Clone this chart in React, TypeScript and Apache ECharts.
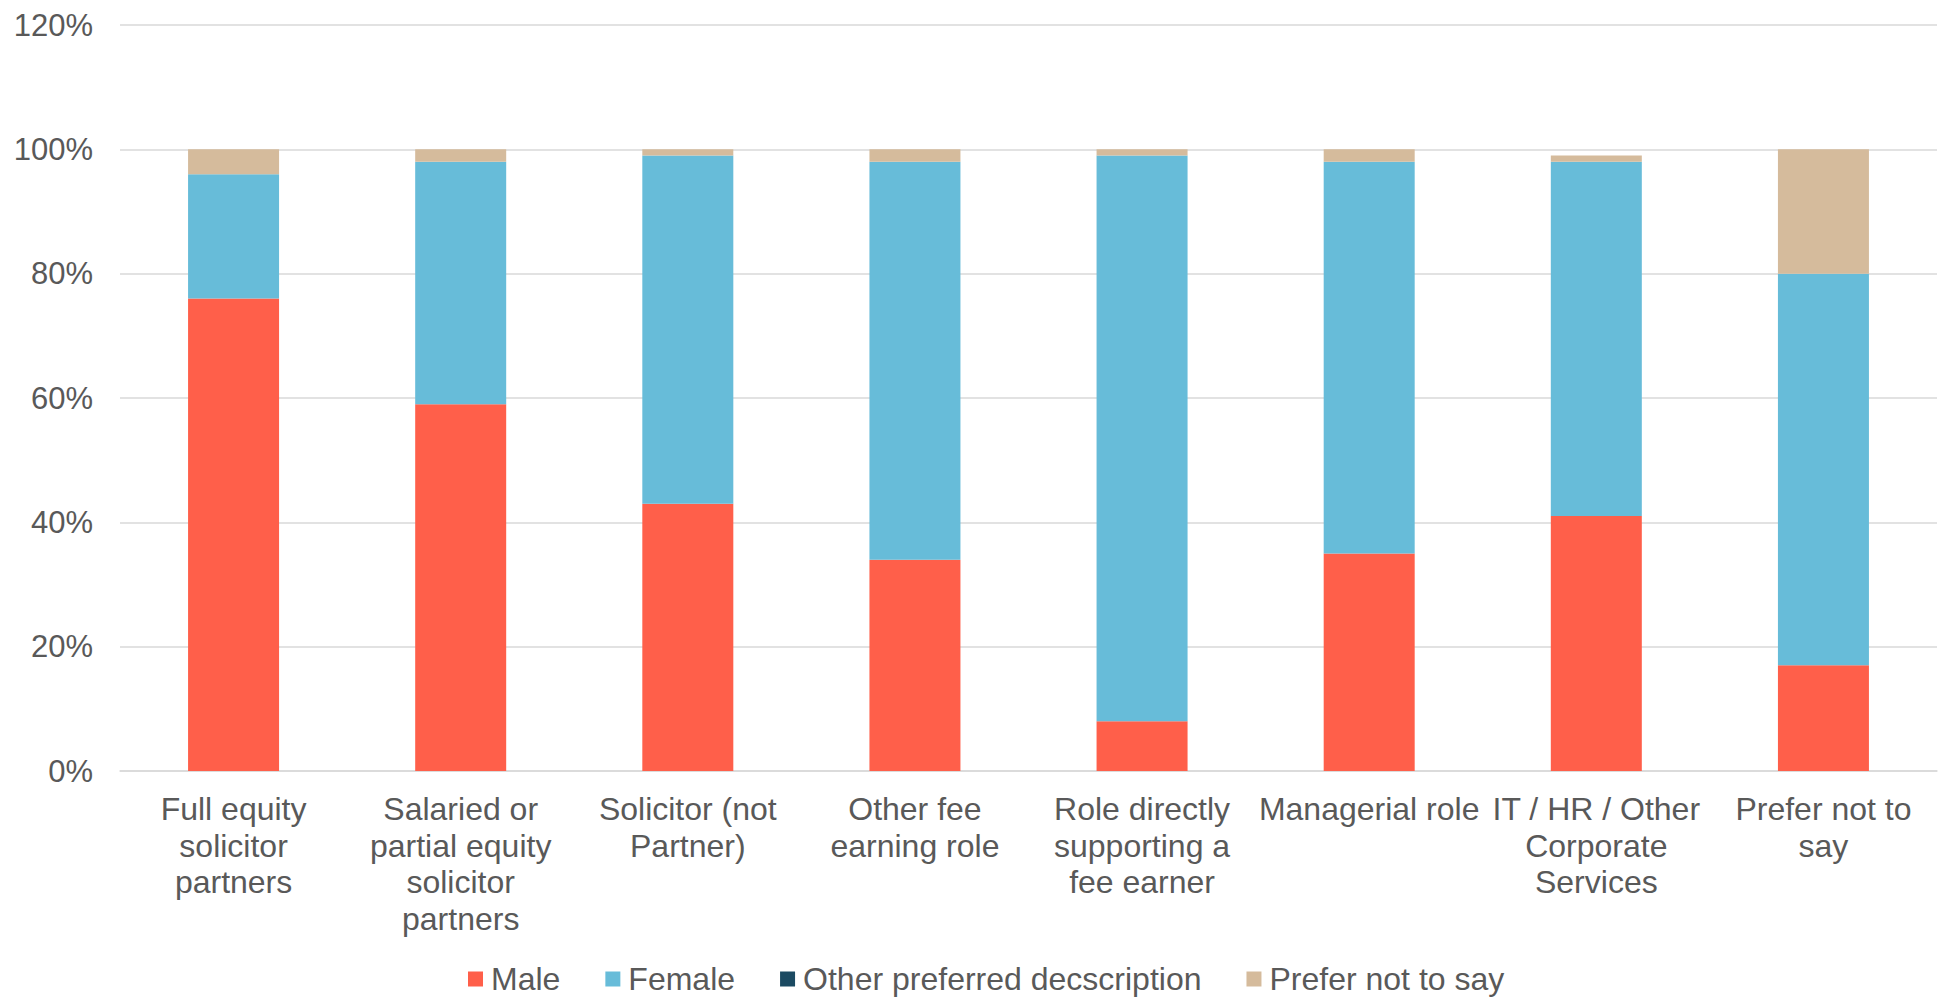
import React, { useEffect, useRef } from "react";
import * as echarts from "echarts";

const categories = [
  "Full equity\nsolicitor\npartners",
  "Salaried or\npartial equity\nsolicitor\npartners",
  "Solicitor (not\nPartner)",
  "Other fee\nearning role",
  "Role directly\nsupporting a\nfee earner",
  "Managerial role",
  "IT / HR / Other\nCorporate\nServices",
  "Prefer not to\nsay",
];
const male = [76, 59, 43, 34, 8, 35, 41, 17];
const female = [20, 39, 56, 64, 91, 63, 57, 63];
const other = [0, 0, 0, 0, 0, 0, 0, 0];
const preferNot = [4, 2, 1, 2, 1, 2, 1, 20];
const seriesNames = ["Male", "Female", "Other preferred decscription", "Prefer not to say"];
const colors = ["#FF5F4A", "#67BCD9", "#1B4A62", "#D5BB9C"];

const FONT = "'Liberation Sans', Arial, sans-serif";

export default function App() {
  const ref = useRef<HTMLDivElement>(null);
  useEffect(() => {
    if (!ref.current) return;
    const chart = echarts.init(ref.current, null, { renderer: "svg" });
    const data = [male, female, other, preferNot];
    chart.setOption({
      animation: false,
      textStyle: { fontFamily: FONT },
      grid: { left: 120, right: 8, top: 25, bottom: 228, containLabel: false },
      legend: {
        left: 468,
        top: 963,
        padding: 0,
        itemWidth: 15,
        itemHeight: 15,
        itemGap: 45,
        icon: "rect",
        textStyle: { fontFamily: FONT, fontSize: 32, color: "#595959", padding: [0, 0, 0, 3] },
        data: seriesNames,
      },
      xAxis: {
        type: "category",
        data: categories,
        axisLine: { lineStyle: { color: "#d9d9d9", width: 1.5 } },
        axisTick: { show: false },
        axisLabel: {
          color: "#595959",
          fontSize: 32,
          fontFamily: FONT,
          lineHeight: 36.5,
          margin: 20,
          interval: 0,
        },
      },
      yAxis: {
        type: "value",
        min: 0,
        max: 120,
        interval: 20,
        axisLine: { show: false },
        axisTick: { show: false },
        splitLine: { lineStyle: { color: "#d9d9d9", width: 1.5 } },
        axisLabel: {
          color: "#595959",
          fontSize: 31,
          fontFamily: FONT,
          margin: 27,
          formatter: "{value}%",
        },
      },
      series: seriesNames.map((name, i) => ({
        name,
        type: "bar",
        stack: "total",
        barWidth: 91,
        data: data[i],
        itemStyle: { color: colors[i] },
      })),
    });
    return () => chart.dispose();
  }, []);
  return (
    <div
      ref={ref}
      style={{ position: "absolute", left: 0, top: 0, width: 1945, height: 999, background: "#fff" }}
    />
  );
}
